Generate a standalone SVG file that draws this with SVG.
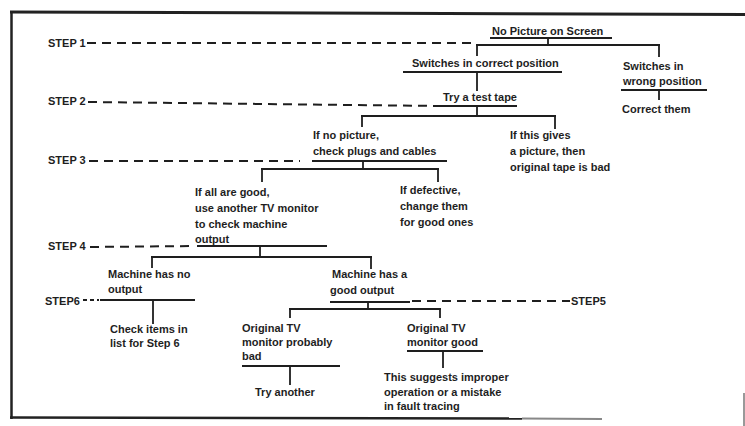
<svg xmlns="http://www.w3.org/2000/svg" width="745" height="426" viewBox="0 0 745 426">
  <style>
    text { font-family: "Liberation Sans", Arial, sans-serif; font-size: 11px; font-weight: bold; fill: #1e1e1e; }
    .ln { stroke: #1e1e1e; stroke-width: 1.8; fill: none; stroke-linecap: butt; }
    .ul { stroke: #1e1e1e; stroke-width: 2; fill: none; }
    .dash { stroke: #1e1e1e; stroke-width: 2; fill: none; stroke-dasharray: 9 6; }
    .dash-short { stroke: #1e1e1e; stroke-width: 2; fill: none; stroke-dasharray: 4 3; }
    .frame { stroke: #222; fill: none; }
  </style>
  <rect width="745" height="426" fill="#ffffff"/>

  <!-- page frame -->
  <g id="frame">
    <line class="frame" x1="10" y1="12" x2="745" y2="14.5" stroke-width="3"/>
    <line class="frame" x1="11.5" y1="11" x2="11.5" y2="419" stroke-width="2.5"/>
    <line class="frame" x1="10" y1="417.5" x2="522" y2="418.5" stroke-width="2.5"/>
    <line x1="522" y1="418.5" x2="602" y2="419" stroke="#888" stroke-width="2"/>
    <line x1="744" y1="393" x2="744" y2="426" stroke="#777" stroke-width="1.5"/>
  </g>

  <!-- tree connectors and underlines -->
  <g id="connectors">
    <line class="ul" x1="490" y1="38" x2="612" y2="38"/>
    <line class="ln" x1="548" y1="38" x2="548" y2="45"/>
    <line class="ln" x1="476" y1="45" x2="660" y2="45"/>
    <line class="ln" x1="477" y1="45" x2="477" y2="56"/>
    <line class="ln" x1="659" y1="45" x2="659" y2="57"/>

    <line class="ul" x1="403" y1="72" x2="562" y2="72"/>
    <line class="ln" x1="477" y1="72" x2="477" y2="91"/>
    <line class="ul" x1="621" y1="90" x2="707" y2="90"/>
    <line class="ln" x1="659" y1="90" x2="659" y2="100"/>

    <line class="ul" x1="440" y1="106" x2="517" y2="106"/>
    <line class="ln" x1="477" y1="106" x2="477" y2="116"/>
    <line class="ln" x1="361" y1="116" x2="556" y2="116"/>
    <line class="ln" x1="362" y1="116" x2="362" y2="127"/>
    <line class="ln" x1="555" y1="116" x2="555" y2="129"/>

    <line class="ul" x1="312" y1="161" x2="447" y2="161"/>
    <line class="ln" x1="363" y1="161" x2="363" y2="169"/>
    <line class="ln" x1="261" y1="169" x2="439" y2="169"/>
    <line class="ln" x1="262" y1="169" x2="262" y2="182"/>
    <line class="ln" x1="438" y1="169" x2="438" y2="182"/>

    <line class="ul" x1="197" y1="246" x2="327" y2="246"/>
    <line class="ln" x1="260" y1="246" x2="260" y2="257"/>
    <line class="ln" x1="151" y1="257" x2="372" y2="257"/>
    <line class="ln" x1="152" y1="257" x2="152" y2="268"/>
    <line class="ln" x1="371" y1="257" x2="371" y2="269"/>

    <line class="ul" x1="100" y1="300" x2="195" y2="300"/>
    <line class="ln" x1="153" y1="300" x2="153" y2="324"/>

    <line class="ul" x1="330" y1="302" x2="410" y2="302"/>
    <line class="ln" x1="368" y1="302" x2="368" y2="309"/>
    <line class="ln" x1="289" y1="309" x2="441" y2="309"/>
    <line class="ln" x1="290" y1="309" x2="290" y2="318"/>
    <line class="ln" x1="440" y1="309" x2="440" y2="318"/>

    <line class="ul" x1="242" y1="366" x2="340" y2="366"/>
    <line class="ln" x1="290" y1="366" x2="290" y2="385"/>
    <line class="ul" x1="407" y1="351" x2="483" y2="351"/>
    <line class="ln" x1="443" y1="351" x2="443" y2="368"/>

    <!-- step leaders -->
    <line class="dash" x1="87" y1="43" x2="472" y2="43"/>
    <line class="dash" x1="88" y1="102" x2="440" y2="106"/>
    <line class="dash" x1="89" y1="161" x2="300" y2="161"/>
    <line class="dash" x1="90" y1="247" x2="195" y2="246"/>
    <line class="dash-short" x1="83" y1="300" x2="99" y2="300"/>
    <line class="dash" x1="412" y1="301" x2="570" y2="301"/>
  </g>

  <!-- step labels -->
  <g id="step1"><text x="48" y="47">STEP 1</text></g>
  <g id="step2"><text x="48" y="105">STEP 2</text></g>
  <g id="step3"><text x="48" y="164">STEP 3</text></g>
  <g id="step4"><text x="48" y="250">STEP 4</text></g>
  <g id="step6"><text x="45" y="305">STEP6</text></g>
  <g id="step5"><text x="571" y="305">STEP5</text></g>

  <!-- decision nodes -->
  <g id="no-picture"><text x="492" y="35">No Picture on Screen</text></g>
  <g id="switches-correct"><text x="412" y="67">Switches in correct position</text></g>
  <g id="switches-wrong">
    <text x="623" y="70">Switches in</text>
    <text x="623" y="85">wrong position</text>
  </g>
  <g id="correct-them"><text x="622" y="113">Correct them</text></g>
  <g id="test-tape"><text x="443" y="101">Try a test tape</text></g>
  <g id="check-plugs">
    <text x="313" y="139">If no picture,</text>
    <text x="313" y="155">check plugs and cables</text>
  </g>
  <g id="tape-bad">
    <text x="510" y="139">If this gives</text>
    <text x="510" y="155">a picture, then</text>
    <text x="510" y="171">original tape is bad</text>
  </g>
  <g id="all-good">
    <text x="195" y="196">If all are good,</text>
    <text x="195" y="212">use another TV monitor</text>
    <text x="195" y="228">to check machine</text>
    <text x="195" y="243">output</text>
  </g>
  <g id="defective">
    <text x="400" y="194">If defective,</text>
    <text x="400" y="210">change them</text>
    <text x="400" y="226">for good ones</text>
  </g>
  <g id="no-output">
    <text x="108" y="278">Machine has no</text>
    <text x="108" y="293">output</text>
  </g>
  <g id="good-output">
    <text x="332" y="278">Machine has a</text>
    <text x="330" y="294">good output</text>
  </g>
  <g id="check-items">
    <text x="110" y="333">Check items in</text>
    <text x="110" y="347">list for Step 6</text>
  </g>
  <g id="monitor-bad">
    <text x="242" y="332">Original TV</text>
    <text x="242" y="346">monitor probably</text>
    <text x="242" y="360">bad</text>
  </g>
  <g id="try-another"><text x="255" y="396">Try another</text></g>
  <g id="monitor-good">
    <text x="407" y="332">Original TV</text>
    <text x="407" y="346">monitor good</text>
  </g>
  <g id="improper-operation">
    <text x="384" y="381">This suggests improper</text>
    <text x="384" y="396">operation or a mistake</text>
    <text x="384" y="410">in fault tracing</text>
  </g>
</svg>
